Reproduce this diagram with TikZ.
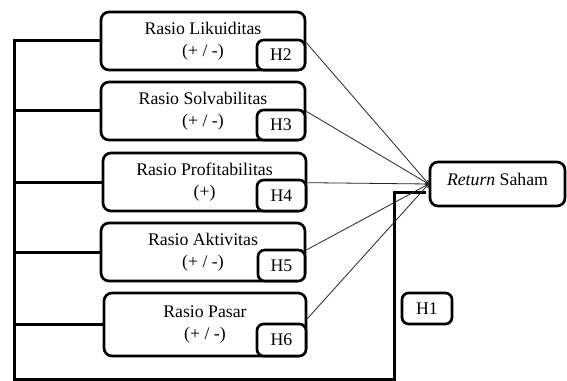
\documentclass[tikz,border=0pt]{standalone}
\usepackage{fontspec}
\setmainfont{Liberation Serif}
\usepackage{tikz}

\begin{document}
\begin{tikzpicture}[x=0.75pt, y=-0.75pt,
        font = \fontsize{13.3}{16.5}\selectfont,
        rasio/.style = {draw, line width=2pt, rounded corners=6pt, align=center, inner sep=0pt, fill=white},
        hipo/.style = {draw, line width=2pt, rounded corners=5pt, inner sep=0pt, fill=white, anchor=south east},
        bus/.style = {line width=2.25pt},
        panah/.style = {->, line width=0.6pt, black!85}]
        \useasboundingbox (0,0) rectangle (567,381);

        \node[rasio, minimum width=153pt, minimum height=43.5pt] (lik) at (203,41) {Rasio Likuiditas\\(+ / -)};
        \node[rasio, minimum width=153pt, minimum height=43.5pt] (sol) at (203,111) {Rasio Solvabilitas\\(+ / -)};
        \node[rasio, minimum width=152.25pt, minimum height=43.5pt] (pro) at (204.5,182) {Rasio Profitabilitas\\(+)};
        \node[rasio, minimum width=153pt, minimum height=43.5pt] (akt) at (203,252) {Rasio Aktivitas\\(+ / -)};
        \node[rasio, minimum width=151.5pt, minimum height=47.25pt] (pas) at (205,324.5) {Rasio Pasar\\(+ / -)};

        \node[hipo, minimum width=36pt, minimum height=22.5pt] (h2) at (lik.south east) {H2};
        \node[hipo, minimum width=36pt, minimum height=22.5pt] (h3) at (sol.south east) {H3};
        \node[hipo, minimum width=36.75pt, minimum height=23.25pt] (h4) at (pro.south east) {H4};
        \node[hipo, minimum width=35.25pt, minimum height=23.25pt] (h5) at (akt.south east) {H5};
        \node[hipo, minimum width=36.75pt, minimum height=24pt] (h6) at (pas.south east) {H6};

        \node[rasio, minimum width=101.25pt, minimum height=33pt, text depth=7pt] (ret) at (497.5,184) {\textit{Return} Saham};
        \node[rasio, rounded corners=5pt, minimum width=37.5pt, minimum height=23.25pt] (h1) at (427,308.5) {H1};

        \coordinate (bl) at (14,379);
        \coordinate (br) at (394,379);
        \coordinate (jn) at (426,192);

        \draw[bus] (lik.west) -| (bl) -- (br) |- (jn);
        \draw[bus] (sol.west) -- (sol.west -| bl);
        \draw[bus] (pro.west) -- (pro.west -| bl);
        \draw[bus] (akt.west) -- (akt.west -| bl);
        \draw[bus] (pas.west) -- (pas.west -| bl);

        \draw[panah] ([yshift=-3pt]h2.north east) -- (ret.west);
        \draw[panah] ([yshift=-2pt]h3.north east) -- (ret.west);
        \draw[panah] ([yshift=-3pt]h4.north east) -- (ret.west);
        \draw[panah] ([yshift=-1pt]h5.north east) -- (ret.west);
        \draw[panah] ([yshift=3pt]h6.north east) -- (ret.west);
\end{tikzpicture}
\end{document}
